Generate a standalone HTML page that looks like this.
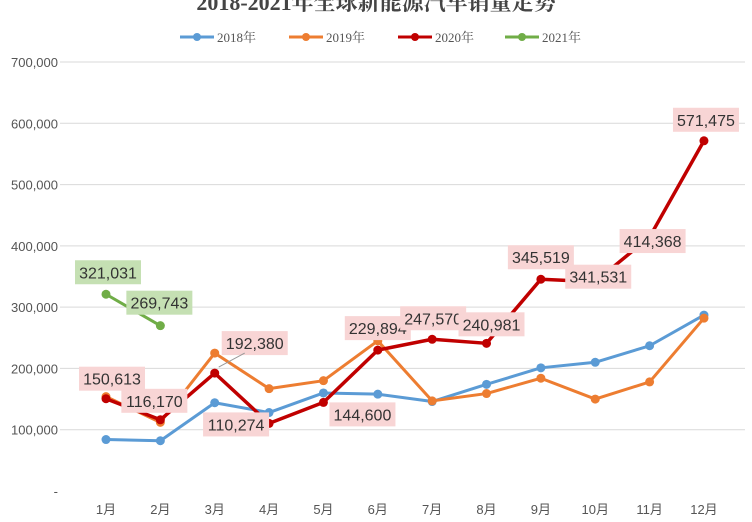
<!DOCTYPE html>
<html><head><meta charset="utf-8"><style>
html,body{margin:0;padding:0;background:#fff;}
svg{display:block;font-family:"Liberation Sans","Noto Sans CJK SC",sans-serif;}
</style></head><body>
<svg id="chart" width="752" height="522" viewBox="0 0 752 522" xmlns="http://www.w3.org/2000/svg">
<text x="376" y="10" text-anchor="middle" font-family="Liberation Serif, Noto Serif CJK SC, serif" font-weight="bold" font-size="22" fill="#444">2018-2021年全球新能源汽车销量走势</text>
<g id="legend"></g>
<g id="grid"></g><g id="series"></g><g id="labels"></g><g id="axes"></g>
</svg>
<script>
const months=["1月","2月","3月","4月","5月","6月","7月","8月","9月","10月","11月","12月"];
const yTicks=[0,100000,200000,300000,400000,500000,600000,700000];
const s2018=[84000,82000,144000,128000,160000,158000,146000,174000,201000,210000,237000,287000];
const s2019=[154000,112000,225000,167000,180000,245000,147000,159000,184000,150000,178000,282000];
const s2020=[150613,116170,192380,110274,144600,229894,247570,240981,345519,341531,414368,571475];
const s2021=[321031,269743];
const seriesNames=["2018年","2019年","2020年","2021年"];
const ns="http://www.w3.org/2000/svg";
const x=i=>106+i*54.36;
const y=v=>491-v*(429/700000);
function mk(t,a,p){const e=document.createElementNS(ns,t);for(const k in a)e.setAttribute(k,a[k]);p.appendChild(e);return e;}
const grid=document.getElementById('grid'),axes=document.getElementById('axes');
yTicks.forEach(t=>{
  if(t>0){const l=mk('line',{x1:60,x2:745,y1:y(t),y2:y(t),stroke:'#d9d9d9','stroke-width':1},grid);
  
  }
  const tx=mk('text',{x:58,y:y(t)+5,'text-anchor':'end','font-size':13,fill:'#555'},axes);
  
  
  tx.textContent=t===0?'-':t.toLocaleString('en-US');
});
months.forEach((m,i)=>{
  const tx=mk('text',{x:x(i),y:514,'text-anchor':'middle','font-size':13,fill:'#555'},axes);
  
  
  tx.textContent=m;
});
const colors=["#5b9bd5","#ed7d31","#c00000","#70ad47"];
const all=[s2018,s2019,s2020,s2021];
const sg=document.getElementById('series');
all.forEach((d,si)=>{
  const g=mk('g',{},sg);
  
  
  const p=mk('polyline',{points:d.map((v,i)=>x(i)+','+y(v)).join(' '),fill:'none',stroke:colors[si],'stroke-width':si==2?3.5:3,'stroke-linejoin':'round'},g);
  
  
  d.forEach((v,i)=>{const c=mk('circle',{cx:x(i),cy:y(v),r:4.5,fill:colors[si]},g);
    
    });
});
// legend
const lg=document.getElementById('legend');
const lx=[180,289,398,505];
seriesNames.forEach((n,i)=>{
  const g=mk('g',{},lg);
  
  
  mk('line',{x1:lx[i],x2:lx[i]+34,y1:37,y2:37,stroke:colors[i],'stroke-width':3},g);
  mk('circle',{cx:lx[i]+17,cy:37,r:4,fill:colors[i]},g);
  const t=mk('text',{x:lx[i]+37,y:42,'font-size':13,fill:'#555','font-family':'Liberation Serif, Noto Serif CJK SC, serif'},g);
  t.textContent=n;
});
// data labels
const labG=document.getElementById('labels');
const off2020=[[6,-20],[-6,-19],[40,-30],[-33,1],[39,12],[0,-22],[1,-21],[5,-19],[0,-22],[3,-5],[3,4],[2,-21]];
const off2021=[[2,-22],[-1,-23]];
function label(v,i,o,bg,w){
  const g=mk('g',{},labG);
  
  
  const cx=x(i)+o[0],cy=y(v)+o[1];
  mk('rect',{x:cx-33,y:cy-12,width:66,height:24,fill:bg},g);
  const t=mk('text',{x:cx,y:cy+6,'text-anchor':'middle','font-size':16,fill:'#333'},g);
  t.textContent=v.toLocaleString('en-US');
}
s2020.forEach((v,i)=>label(v,i,off2020[i],'#f8d5d5'));
s2021.forEach((v,i)=>label(v,i,off2021[i],'#c5e0b3'));
mk('line',{x1:x(2)+4,y1:y(s2020[2])-6,x2:x(2)+30,y2:y(s2020[2])-20,stroke:'#999','stroke-width':1},labG);
</script>
</body></html>
